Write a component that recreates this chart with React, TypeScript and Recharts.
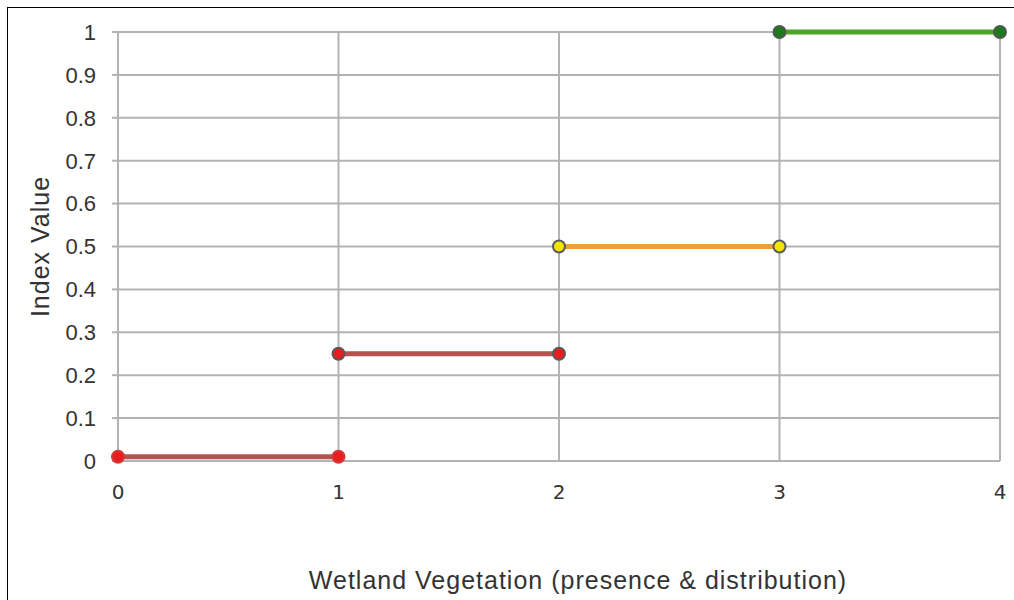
import { CartesianGrid, Label, Line, LineChart, XAxis, YAxis } from 'recharts'

// segment end points
const lowX = [0, 1]
const lowY = [0.01, 0.01]
const midLowX = [1, 2]
const midLowY = [0.25, 0.25]
const midHighX = [2, 3]
const midHighY = [0.5, 0.5]
const highX = [3, 4]
const highY = [1, 1]

const xTicks = [0, 1, 2, 3, 4]
const yTicks = [0, 0.1, 0.2, 0.3, 0.4, 0.5, 0.6, 0.7, 0.8, 0.9, 1]

const toPoints = (xs: number[], ys: number[]) => xs.map((x, i) => ({ x, y: ys[i] }))

const segments = [
  { name: 'low', data: toPoints(lowX, lowY), line: '#b5524f', dotFill: '#e81e1e', dotStroke: '#d23a3a' },
  { name: 'midLow', data: toPoints(midLowX, midLowY), line: '#b5524f', dotFill: '#e81e1e', dotStroke: '#5a5a5a' },
  { name: 'midHigh', data: toPoints(midHighX, midHighY), line: '#f29d3c', dotFill: '#f2e600', dotStroke: '#5a5a5a' },
  { name: 'high', data: toPoints(highX, highY), line: '#4ca62a', dotFill: '#1f7a1f', dotStroke: '#4f5a4f' },
]

const gridColor = '#b3b3b3'

export default function App() {
  return (
    <div style={{ position: 'absolute', left: 0, top: 0, width: 1014, height: 600, background: '#fff' }}>
      <div
        style={{
          position: 'absolute',
          left: 7,
          top: 7,
          width: 1014,
          height: 600,
          borderLeft: '1px solid #000',
          borderTop: '1px solid #000',
        }}
      />
      <div style={{ position: 'absolute', left: 0, top: 0 }}>
        <LineChart width={1014} height={600} margin={{ top: 32, right: 14, bottom: 0, left: 0 }}>
          <CartesianGrid stroke={gridColor} strokeWidth={2} />
          <XAxis
            dataKey="x"
            type="number"
            domain={[0, 4]}
            ticks={xTicks}
            height={139}
            tickSize={0}
            tickMargin={24}
            axisLine={{ stroke: gridColor, strokeWidth: 2 }}
            tick={{ fontSize: 20, fill: '#333', fontFamily: 'DejaVu Sans' }}
            allowDuplicatedCategory={false}
          >
            <Label
              content={({ viewBox }: any) => (
                <text
                  x={viewBox.x + viewBox.width / 2 + 19}
                  y={viewBox.y + viewBox.height - 11}
                  textAnchor="middle"
                  fontSize={25}
                  letterSpacing={1}
                  fontFamily="Liberation Sans"
                  fill="#333"
                >
                  Wetland Vegetation (presence &amp; distribution)
                </text>
              )}
            />
          </XAxis>
          <YAxis
            type="number"
            domain={[0, 1]}
            ticks={yTicks}
            width={118}
            tickSize={6}
            tickMargin={16}
            interval={0}
            axisLine={{ stroke: gridColor, strokeWidth: 2 }}
            tickLine={{ stroke: gridColor, strokeWidth: 2 }}
            tick={{ fontSize: 22, fill: '#333', fontFamily: 'Liberation Sans' }}
          >
            <Label
              content={({ viewBox }: any) => {
                const cx = 40
                const cy = viewBox.y + viewBox.height / 2
                return (
                  <text
                    x={cx}
                    y={cy}
                    transform={`rotate(-90, ${cx}, ${cy})`}
                    textAnchor="middle"
                    dominantBaseline="central"
                    fontSize={25}
                    letterSpacing={1}
                    fontFamily="Liberation Sans"
                    fill="#333"
                  >
                    Index Value
                  </text>
                )
              }}
            />
          </YAxis>
          {segments.map((s) => (
            <Line
              key={s.name}
              data={s.data}
              dataKey="y"
              type="linear"
              stroke={s.line}
              strokeWidth={5}
              dot={{ r: 6, fill: s.dotFill, stroke: s.dotStroke, strokeWidth: 2 }}
              activeDot={false}
              isAnimationActive={false}
            />
          ))}
        </LineChart>
      </div>
    </div>
  )
}
